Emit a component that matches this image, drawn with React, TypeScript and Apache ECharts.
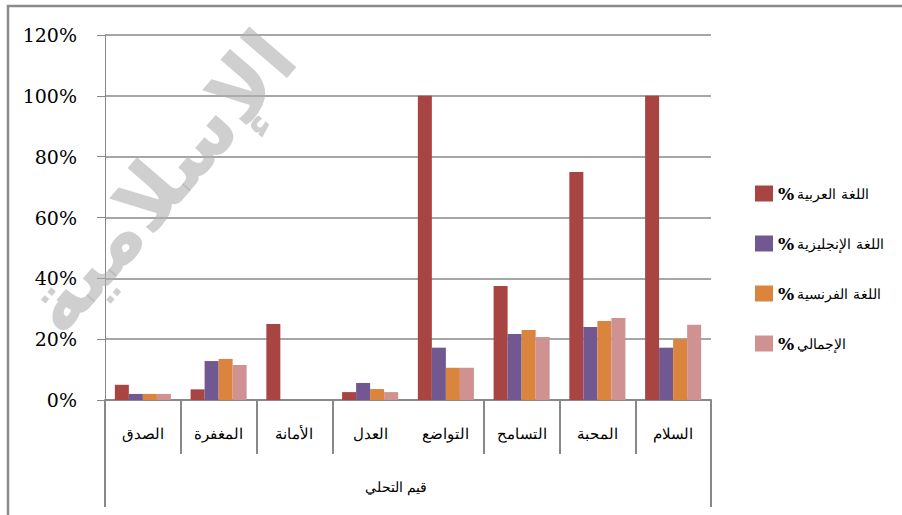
import React, { useEffect, useRef } from "react";
import * as echarts from "echarts";

// قيم التحلي — نسب كل قيمة حسب لغة الدراسة
const categories = ["الصدق", "المغفرة", "الأمانة", "العدل", "التواضع", "التسامح", "المحبة", "السلام"];
const arabicPct = [5, 3.5, 25, 2.6, 100, 37.5, 75, 100];
const englishPct = [2, 12.8, 0, 5.6, 17.2, 21.7, 24, 17.2];
const frenchPct = [2, 13.5, 0, 3.6, 10.6, 23, 26, 20];
const totalPct = [2, 11.5, 0, 2.6, 10.6, 20.7, 27, 24.7];

const seriesNames = ["اللغة العربية", "اللغة الإنجليزية", "اللغة الفرنسية", "الإجمالي"];
const seriesColors = ["#A84543", "#715890", "#DB843D", "#D09291"];
const yTicks = { min: 0, max: 120, interval: 20 };
const axisTitle = "قيم التحلي";

const SERIF = "'DejaVu Serif', 'Liberation Serif', serif";
const AXIS_GRAY = "#888888";

export default function App() {
  const ref = useRef<HTMLDivElement>(null);

  useEffect(() => {
    document.body.style.margin = "0";
    if (!ref.current) return;
    const chart = echarts.init(ref.current, undefined, { renderer: "svg" });
    const data = [arabicPct, englishPct, frenchPct, totalPct];

    chart.setOption({
      animation: false,
      backgroundColor: "#ffffff",
      grid: { left: 105, right: 191, top: 35, bottom: 115, containLabel: false },
      legend: {
        orient: "vertical",
        left: 750,
        top: 180,
        itemWidth: 18,
        itemHeight: 16,
        itemGap: 33,
        icon: "rect",
        data: seriesNames,
        formatter: (name: string) => `{p|%} {t|${name}}`,
        textStyle: {
          rich: {
            p: { fontFamily: SERIF, fontWeight: "bold", fontSize: 17, color: "#000" },
            t: { fontFamily: SERIF, fontSize: 14, color: "#000" },
          },
        },
      },
      xAxis: {
        type: "category",
        data: categories,
        boundaryGap: true,
        axisLine: { show: true, lineStyle: { color: AXIS_GRAY, width: 2 } },
        axisTick: {
          show: true,
          length: 54,
          interval: (i: number) => i !== 4,
          lineStyle: { color: AXIS_GRAY, width: 2 },
        },
        axisLabel: { margin: 26, fontFamily: SERIF, fontSize: 15, color: "#000", interval: 0 },
        name: axisTitle,
        nameLocation: "middle",
        nameGap: 80,
        nameTextStyle: { fontFamily: SERIF, fontSize: 14, color: "#000", padding: [0, 24, 0, 0] },
        splitLine: { show: false },
      },
      yAxis: {
        type: "value",
        min: yTicks.min,
        max: yTicks.max,
        interval: yTicks.interval,
        axisLine: { show: true, lineStyle: { color: AXIS_GRAY, width: 1 } },
        axisTick: { show: true, length: 8, lineStyle: { color: AXIS_GRAY } },
        axisLabel: {
          margin: 28,
          formatter: "{value}%",
          fontFamily: SERIF,
          fontSize: 19,
          color: "#000",
        },
        splitLine: { show: true, lineStyle: { color: AXIS_GRAY, width: 1.5 } },
      },
      series: seriesNames.map((name, i) => ({
        name,
        type: "bar",
        data: data[i],
        barGap: "0%",
        barCategoryGap: "26%",
        itemStyle: { color: seriesColors[i] },
      })),
      graphic: [
        {
          type: "rect",
          z: -10,
          shape: { x: 8, y: 6, width: 1000, height: 600 },
          style: { fill: "none", stroke: "#8c8c8c", lineWidth: 2.5 },
        },
        {
          type: "line",
          shape: { x1: 105, y1: 400, x2: 105, y2: 507 },
          style: { stroke: AXIS_GRAY, lineWidth: 2 },
        },
        {
          type: "line",
          shape: { x1: 711, y1: 400, x2: 711, y2: 507 },
          style: { stroke: AXIS_GRAY, lineWidth: 2 },
        },
        {
          type: "text",
          z: 100,
          x: 160,
          y: 182,
          rotation: 0.86,
          style: {
            text: "الإسلامية",
            fontFamily: "'DejaVu Sans', sans-serif",
            fontWeight: "bold",
            fontSize: 82,
            fill: "rgba(175,175,175,0.6)",
            align: "center",
            verticalAlign: "middle",
          },
        },
      ],
    });

    return () => chart.dispose();
  }, []);

  return <div ref={ref} style={{ width: 902, height: 515 }} />;
}
